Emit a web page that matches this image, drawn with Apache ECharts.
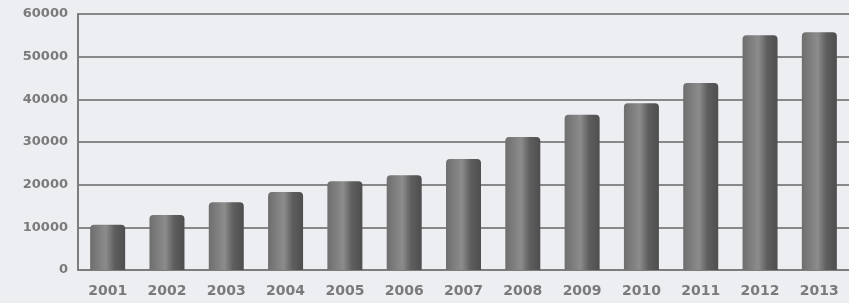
<!DOCTYPE html>
<html>
<head>
<meta charset="utf-8">
<script src="https://cdn.jsdelivr.net/npm/echarts@6/dist/echarts.min.js"></script>
<style>
  html, body { margin: 0; padding: 0; background: #eceef2; }
  #chart { width: 849px; height: 303px; }
</style>
</head>
<body>
<div id="chart"></div>
<script>
// years along the bottom
const years = ["2001", "2002", "2003", "2004", "2005", "2006", "2007",
  "2008", "2009", "2010", "2011", "2012", "2013"];
// bar heights
const values = [10600, 12900, 15900, 18300, 20800, 22200, 26000,
  31200, 36400, 39100, 43800, 55000, 55700];
const yTicks = [0, 10000, 20000, 30000, 40000, 50000, 60000];

const chart = echarts.init(document.getElementById("chart"));
chart.setOption({
  backgroundColor: "#eceef2",
  grid: { left: 78, right: 0, top: 14, bottom: 33 },
  xAxis: {
    type: "category",
    data: years,
    axisLine: { lineStyle: { color: "#7d7d7d", width: 2 } },
    axisTick: { show: false },
    axisLabel: {
      color: "#7a7a7a",
      fontFamily: "DejaVu Sans",
      fontWeight: "bold",
      fontSize: 14,
      margin: 14
    }
  },
  yAxis: {
    type: "value",
    min: yTicks[0],
    max: yTicks[yTicks.length - 1],
    interval: 10000,
    axisLine: { show: true, lineStyle: { color: "#7d7d7d", width: 2 } },
    axisTick: { show: false },
    splitLine: { lineStyle: { color: "#888", width: 2 } },
    axisLabel: {
      color: "#7a7a7a",
      fontFamily: "DejaVu Sans",
      fontWeight: "bold",
      fontSize: 13,
      margin: 10,
      formatter: function (v) { return String(v); }
    }
  },
  series: [
    {
      type: "bar",
      data: values,
      barWidth: "59%",
      itemStyle: {
        borderRadius: [4, 4, 0, 0],
        color: new echarts.graphic.LinearGradient(0, 0, 1, 0, [
          { offset: 0, color: "#6e6e6e" },
          { offset: 0.45, color: "#8c8c8c" },
          { offset: 0.7, color: "#5e5e5e" },
          { offset: 1, color: "#4e4e4e" }
        ])
      }
    }
  ]
});
</script>
</body>
</html>
